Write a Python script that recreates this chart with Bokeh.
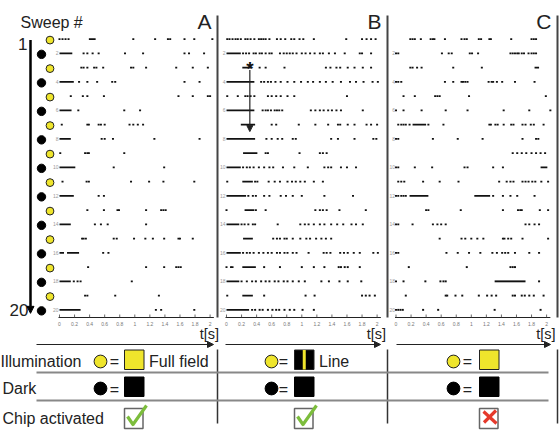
from bokeh.plotting import figure
from bokeh.models import Range1d, Arrow, NormalHead
from bokeh.core.properties import value
from bokeh.embed import file_html
from bokeh.resources import INLINE

# ---------------- data ----------------
SWEEPS = list(range(1, 21))
TICKS = [0.0, 0.2, 0.4, 0.6, 0.8, 1.0, 1.2, 1.4, 1.6, 1.8, 2.0]
TICK_LABELS = ["0", "0.2", "0.4", "0.6", "0.8", "1", "1.2", "1.4", "1.6", "1.8", "2"]
PANEL_LETTERS = ["A", "B", "C"]

# spike times (s) for sweeps 1..20
A_SPIKES = [
    [0.00, 0.04, 0.08, 0.12, 0.98, 1.27, 1.44, 1.47, 1.66, 1.79, 2.03],
    [0.32, 0.37, 0.44, 0.52, 0.87, 1.11, 1.66, 1.72, 1.92],
    [0.29, 0.32, 0.37, 0.46, 0.49, 0.58, 0.95, 0.98, 1.15, 1.55, 1.77, 1.97],
    [0.26, 0.37, 0.50, 0.70, 0.74, 1.66, 1.86],
    [0.15, 0.31, 0.37, 0.59, 1.58, 1.77, 1.97, 2.00],
    [0.25, 0.86, 1.07],
    [0.03, 0.37, 0.39, 0.52, 0.55, 0.60, 0.93, 0.98, 1.04, 1.11],
    [0.56, 0.60, 0.71, 1.26, 1.86],
    [0.01, 0.34, 0.37, 0.39, 0.86],
    [0.72, 1.39],
    [0.04, 0.36, 0.39, 0.95, 1.19, 1.38, 1.79],
    [0.52, 0.59],
    [0.37, 0.59, 0.77, 0.79, 1.15, 1.35, 1.38, 1.41],
    [0.47, 0.55, 0.64, 1.15],
    [0.30, 0.32, 0.35, 0.72, 0.76, 0.99, 1.14, 1.24, 1.39, 1.58, 1.60, 1.77],
    [0.58, 0.65],
    [0.38, 1.15, 1.39, 1.55, 1.58, 1.61],
    [0.19, 0.24, 0.28, 0.96],
    [0.34, 0.37, 0.74, 1.32],
    [1.28, 1.35, 1.79],
]
# bursts: (sweep, start s, end s)
A_BURSTS = [(1, 0.39, 0.48), (2, 0.0, 0.17), (4, 0.0, 0.19), (6, 0.0, 0.16), (8, 0.0, 0.15),
            (10, 0.0, 0.21), (12, 0.0, 0.19), (14, 0.0, 0.15), (16, 0.0, 0.06), (16, 0.10, 0.26),
            (18, 0.0, 0.15), (20, 0.0, 0.28)]

B_SPIKES = [
    [0.01, 0.04, 0.08, 0.12, 0.15, 0.19, 0.25, 0.28, 0.32, 0.37, 0.43, 0.46, 0.49, 0.52, 0.57, 0.67,
     0.72, 0.78, 0.86, 0.90, 0.97, 1.02, 1.16, 1.59, 1.80, 1.86, 1.92, 1.98],
    [0.22, 0.26, 0.30, 0.36, 0.39, 0.44, 0.47, 0.52, 0.57, 0.60, 0.71, 0.76, 0.80, 0.84, 0.88, 0.93,
     1.00, 1.05, 1.11, 1.17, 1.24, 1.28, 1.36, 1.44, 1.57, 1.77, 1.80, 1.92],
    [0.44, 0.52, 0.77, 1.32, 1.38, 1.46, 1.51, 1.61, 1.70, 1.81, 1.92],
    [0.46, 0.50, 0.55, 0.59, 0.65, 0.72, 0.81, 0.90, 0.99, 1.08, 1.15, 1.24, 1.32, 1.41, 1.52, 1.64,
     1.72, 1.82, 1.94, 2.01],
    [0.01, 0.15, 0.25, 0.28, 0.32, 0.37, 0.55, 0.60, 0.66, 0.72, 0.81, 0.90, 1.60],
    [0.48, 0.52, 0.55, 0.59, 0.64, 0.67, 0.70, 0.74, 1.12, 1.18, 1.24, 1.29, 1.35, 1.40, 1.46, 1.52, 1.81],
    [0.60, 0.66, 0.96, 1.18, 1.35, 1.48, 1.51, 1.61, 1.70, 1.86, 1.92, 2.00],
    [0.53, 0.60, 0.68, 0.74, 0.88, 0.92, 1.39, 1.48, 1.70, 1.95, 1.99],
    [0.52, 0.55, 0.97, 1.24, 1.28, 1.33],
    [0.22, 0.27, 0.31, 0.36, 0.43, 0.50, 0.57, 0.62, 0.75, 0.90, 1.08, 1.30, 1.35, 1.39, 1.52, 1.60, 1.72],
    [0.01, 0.38, 0.41, 0.56, 0.64, 0.71, 0.81, 0.87, 0.92, 0.98, 1.04, 1.16, 1.28],
    [0.29, 0.35, 0.39, 0.50, 0.57, 0.72, 0.79, 0.88, 1.00, 1.30, 1.68],
    [0.00, 0.39, 0.52, 1.18, 1.24, 1.28, 1.33, 1.50, 1.85],
    [0.20, 0.24, 0.29, 0.35, 0.38, 0.68, 0.98, 1.04, 1.09, 1.16, 1.24, 1.30, 1.39, 1.47, 1.55, 1.66,
     1.72, 1.81],
    [0.62, 0.67, 0.71, 0.77, 0.80, 0.88, 0.98, 1.06, 1.11, 1.19, 1.26, 1.32, 1.39],
    [0.22, 0.27, 0.31, 0.36, 0.43, 0.49, 0.55, 0.60, 0.67, 0.71, 0.77, 0.81, 0.88, 0.93, 1.09, 1.29,
     1.33, 1.38, 1.51, 1.56, 1.61, 1.69, 1.77, 1.95, 2.01],
    [0.00, 0.06, 0.08, 0.50, 0.71, 1.00, 1.16, 1.30, 1.49, 1.52, 1.57, 1.61, 1.77],
    [0.20, 0.27, 0.34, 0.39, 0.46, 0.52, 0.57, 0.64, 0.69, 0.76, 0.81, 0.88, 0.96, 1.04, 1.26, 1.36,
     1.50, 1.61, 1.79],
    [0.01, 0.50, 1.05, 1.17, 1.80, 1.85, 1.90, 1.97],
    [0.34, 0.38, 0.44, 0.48, 0.55, 0.61, 0.66, 0.70, 0.77, 0.84, 0.90, 1.01, 1.16],
]
B_BURSTS = [(2, 0.0, 0.19), (3, 0.21, 0.33), (4, 0.0, 0.37), (6, 0.0, 0.37), (7, 0.19, 0.38),
            (8, 0.0, 0.38), (9, 0.22, 0.41), (10, 0.0, 0.19), (11, 0.21, 0.35), (12, 0.0, 0.26),
            (13, 0.24, 0.37), (14, 0.0, 0.17), (15, 0.22, 0.35), (16, 0.0, 0.19), (17, 0.21, 0.39),
            (18, 0.0, 0.17), (19, 0.21, 0.35), (20, 0.0, 0.30)]

C_SPIKES = [
    [0.19, 0.22, 0.25, 0.33, 0.46, 0.49, 0.51, 0.65, 0.87, 0.91, 0.94, 1.10, 1.13, 1.24, 1.26, 1.53,
     1.80, 1.83, 1.86],
    [0.00, 0.03, 0.61, 0.70, 0.74, 0.98, 1.01, 1.09, 1.52, 1.55, 1.58, 1.61, 1.63, 1.67, 1.70, 1.76,
     1.80, 1.83, 1.86],
    [0.19, 0.22, 0.28, 0.34, 0.76, 1.14],
    [0.00, 0.03, 0.07, 0.65, 0.76, 0.87, 0.89, 0.92, 0.95, 1.23, 1.27, 1.29, 1.34, 1.41, 1.58, 1.84],
    [0.10, 0.25, 0.52, 0.55, 0.58, 0.97, 1.99],
    [0.00, 0.10, 0.34, 0.66, 0.95, 1.43, 1.77, 2.05],
    [0.03, 0.07, 0.10, 0.13, 0.18, 0.43, 0.63, 1.24, 1.26, 1.32, 1.35, 1.43, 1.53, 1.56, 1.68, 1.72,
     1.79, 1.83, 1.96],
    [0.00, 0.03, 0.49, 0.82, 1.15, 1.68, 1.86, 1.89],
    [1.55, 1.61, 1.67, 1.73, 1.80, 1.86, 1.92, 1.98],
    [0.00, 0.03, 0.25, 0.48, 0.91, 0.95, 1.29, 1.42],
    [0.03, 0.07, 0.11, 0.36, 0.58, 0.83, 1.37, 1.47, 1.52, 1.56, 1.68, 1.72, 1.76, 1.81, 1.85, 1.93, 2.02],
    [0.00, 0.03, 0.07, 0.10, 0.13, 1.29, 1.42, 1.52, 1.61, 1.84],
    [0.40, 0.43, 0.86, 1.42, 1.62, 1.65, 1.67, 1.91, 2.02],
    [0.00, 0.03, 0.22, 0.49, 0.55, 0.60, 0.66, 1.72, 1.77, 1.84, 1.90],
    [0.58, 0.87, 0.92, 1.00, 1.08, 1.16, 1.42, 1.44, 1.49, 1.53, 1.68, 2.02],
    [0.00, 0.03, 0.67, 0.82, 0.97, 1.12, 1.28, 1.34, 1.41, 1.45, 1.49, 1.58, 1.77, 1.90],
    [0.17, 0.94, 1.52, 1.55, 1.58],
    [0.00, 0.10, 0.39, 0.59, 0.63, 0.66, 1.90],
    [0.13, 0.66, 0.68, 0.79, 0.88, 1.10, 1.21, 1.27, 1.33, 1.55, 1.58, 1.67, 1.71, 1.77, 1.83, 1.96],
    [0.00, 0.03, 0.06, 0.09, 0.36, 0.56, 1.31, 1.92],
]
C_BURSTS = [(3, 1.84, 1.90), (7, 0.22, 0.40), (10, 1.92, 2.01), (12, 0.18, 0.43), (12, 1.04, 1.25),
            (18, 1.31, 1.72)]

SPIKES = [A_SPIKES, B_SPIKES, C_SPIKES]
BURSTS = [A_BURSTS, B_BURSTS, C_BURSTS]

ROW_NAMES = ["Illumination", "Dark", "Chip activated"]
STIM_NAMES = ["Full field", "Line", ""]
CHIP_ACTIVATED = [True, True, False]

# ---------------- layout (pixel frame) ----------------
FONT = value("Liberation Sans")
YELLOW = "#efe52c"
X0 = [59.0, 226.0, 395.5]      # x of t = 0 in each panel
PXS = 75.3                     # pixels per second
ROW_Y0, ROW_DY = 38.6, 14.25
AXIS_Y = 317.0
DIV_X = [217.0, 387.0, 557.0]
ARROWS_X = [(36, 213), (225, 380), (396, 550)]
TAB_Y = [361.0, 388.0, 418.0]
CIRC_X = [100.0, 271.0, 453.0]
EQ_X = [114.0, 283.0, 467.0]
SQ_X = [124.0, 294.0, 479.0]
SQ_W = 19.5


def px(k, t):
    return X0[k] + t * PXS


def ry(s):
    return ROW_Y0 + (s - 1) * ROW_DY


p = figure(width=560, height=430, x_range=Range1d(0, 560), y_range=Range1d(430, 0),
           x_axis_type=None, y_axis_type=None, toolbar_location=None,
           output_backend="svg", min_border=0)
p.outline_line_color = None
p.grid.visible = False
p.background_fill_color = "white"


def txt(x, y, s, size, align="left", baseline="middle", color="#222222", style="normal"):
    p.text(x=[x], y=[y], text=[s], text_font=FONT, text_font_size=value(f"{size}px"),
           text_align=align, text_baseline=baseline, text_color=color, text_font_style=style)


# header texts
txt(20, 22, "Sweep #", 16)
for k, L in enumerate(PANEL_LETTERS):
    txt(DIV_X[k] - 6, 21, L, 21, align="right")

# sweep arrow and labels
p.add_layout(Arrow(x_start=30, y_start=ry(1) + 1, x_end=30, y_end=ry(20) + 3.5, line_width=2.5,
                   line_color="black",
                   end=NormalHead(size=7, fill_color="black", line_color="black")))
txt(27, ry(1) + 5, "1", 17, align="right")
txt(28, ry(20), "20", 17, align="right")

# sweep circles
odd = [s for s in SWEEPS if s % 2 == 1]
even = [s for s in SWEEPS if s % 2 == 0]
p.scatter(x=[49.5] * len(odd), y=[ry(s) + 1 for s in odd], size=7.8, fill_color=YELLOW,
          line_color="#222222", line_width=1)
p.scatter(x=[41] * len(even), y=[ry(s) + 1 for s in even], size=8.4, fill_color="black",
          line_color="black")

# rasters
for k in range(3):
    xs, ys = [], []
    for i, row in enumerate(SPIKES[k]):
        for t in row:
            xs.append(px(k, t))
            ys.append(ry(i + 1))
    p.rect(x=xs, y=ys, width=2.0, height=1.9, fill_color="#111111", line_color=None)
    b = BURSTS[k]
    p.segment(x0=[px(k, s0) for _, s0, _ in b], y0=[ry(s) for s, _, _ in b],
              x1=[px(k, s1) for _, _, s1 in b], y1=[ry(s) for s, _, _ in b],
              line_width=1.9, line_color="#111111")
    # sweep numbers (even sweeps)
    p.text(x=[X0[k] - 1] * len(even), y=[ry(s) for s in even], text=[str(s) for s in even],
           text_font=FONT, text_font_size=value("5px"), text_align="right",
           text_baseline="middle", text_color="#999999")
    # time axis
    p.segment(x0=[px(k, 0) - 1], y0=[AXIS_Y], x1=[px(k, 2.05)], y1=[AXIS_Y],
              line_color="#222222", line_width=1)
    p.segment(x0=[px(k, t) for t in TICKS], y0=[AXIS_Y - 3] * len(TICKS),
              x1=[px(k, t) for t in TICKS], y1=[AXIS_Y] * len(TICKS),
              line_color="#444444", line_width=0.8)
    p.text(x=[px(k, t) for t in TICKS], y=[AXIS_Y + 6] * len(TICKS), text=TICK_LABELS,
           text_font=FONT, text_font_size=value("5px"), text_align="center",
           text_baseline="middle", text_color="#777777")
    txt(px(k, 2) + 9, 333, "t[s]", 14.5, align="right")
    a0, a1 = ARROWS_X[k]
    p.add_layout(Arrow(x_start=a0, y_start=344, x_end=a1, y_end=344, line_width=1,
                       line_color="#222222",
                       end=NormalHead(size=6, fill_color="#222222", line_color="#222222")))

# panel dividers
p.segment(x0=DIV_X, y0=[15] * 3, x1=DIV_X, y1=[AXIS_Y] * 3, line_color="#444444", line_width=2)
p.segment(x0=DIV_X, y0=[349] * 3, x1=DIV_X, y1=[423] * 3, line_color="#333333", line_width=1.5)

# asterisk and arrow in panel B
txt(px(1, 0.31), ry(3) + 0.5, "*", 19, align="center", baseline="alphabetic", color="#111111",
    style="bold")
p.add_layout(Arrow(x_start=px(1, 0.31), y_start=ry(3) + 2.5, x_end=px(1, 0.31), y_end=ry(7) + 7,
                   line_width=1.2, line_color="#222222",
                   end=NormalHead(size=6, fill_color="#222222", line_color="#222222")))

# table
p.segment(x0=[36, 36], y0=[372, 400], x1=[548, 548], y1=[372, 400], line_color="#888888",
          line_width=1.8)
txt(0, TAB_Y[0], ROW_NAMES[0], 16)
txt(2, TAB_Y[1], ROW_NAMES[1], 16)
txt(2, TAB_Y[2], ROW_NAMES[2], 16)
for k in range(3):
    # illumination row
    p.scatter(x=[CIRC_X[k]], y=[TAB_Y[0]], size=12.8, fill_color=YELLOW, line_color="#222222",
              line_width=1)
    txt(EQ_X[k], TAB_Y[0], "=", 16, align="center")
    p.quad(left=[SQ_X[k]], right=[SQ_X[k] + SQ_W], top=[349.5], bottom=[369],
           fill_color=("black" if STIM_NAMES[k] == "Line" else YELLOW), line_color="#222222",
           line_width=1)
    if STIM_NAMES[k] == "Line":
        xm = SQ_X[k] + SQ_W / 2
        p.segment(x0=[xm], y0=[349.5], x1=[xm], y1=[369], line_color=YELLOW, line_width=3)
    if STIM_NAMES[k]:
        txt(SQ_X[k] + SQ_W + 5, TAB_Y[0], STIM_NAMES[k], 16)
    # dark row
    p.scatter(x=[CIRC_X[k]], y=[TAB_Y[1]], size=12.8, fill_color="black", line_color="black")
    txt(EQ_X[k], TAB_Y[1] + 1, "=", 16, align="center")
    p.quad(left=[SQ_X[k]], right=[SQ_X[k] + SQ_W], top=[376.5], bottom=[396],
           fill_color="black", line_color="black")
    # chip activated row
    p.quad(left=[SQ_X[k]], right=[SQ_X[k] + SQ_W - 1], top=[408], bottom=[428],
           fill_color="white", line_color="#666666", line_width=1.5)
    bx = SQ_X[k]
    if CHIP_ACTIVATED[k]:
        p.line(x=[bx + 3, bx + 8.5, bx + 22], y=[416, 424, 405], line_color="#7cbd3c",
               line_width=3.2, line_join="round")
    else:
        p.segment(x0=[bx + 4, bx + 4.5], y0=[411, 422], x1=[bx + 17, bx + 16.5], y1=[423, 410],
                  line_color="#e5392b", line_width=3.2)

open("out.html", "w").write(file_html(p, INLINE))
